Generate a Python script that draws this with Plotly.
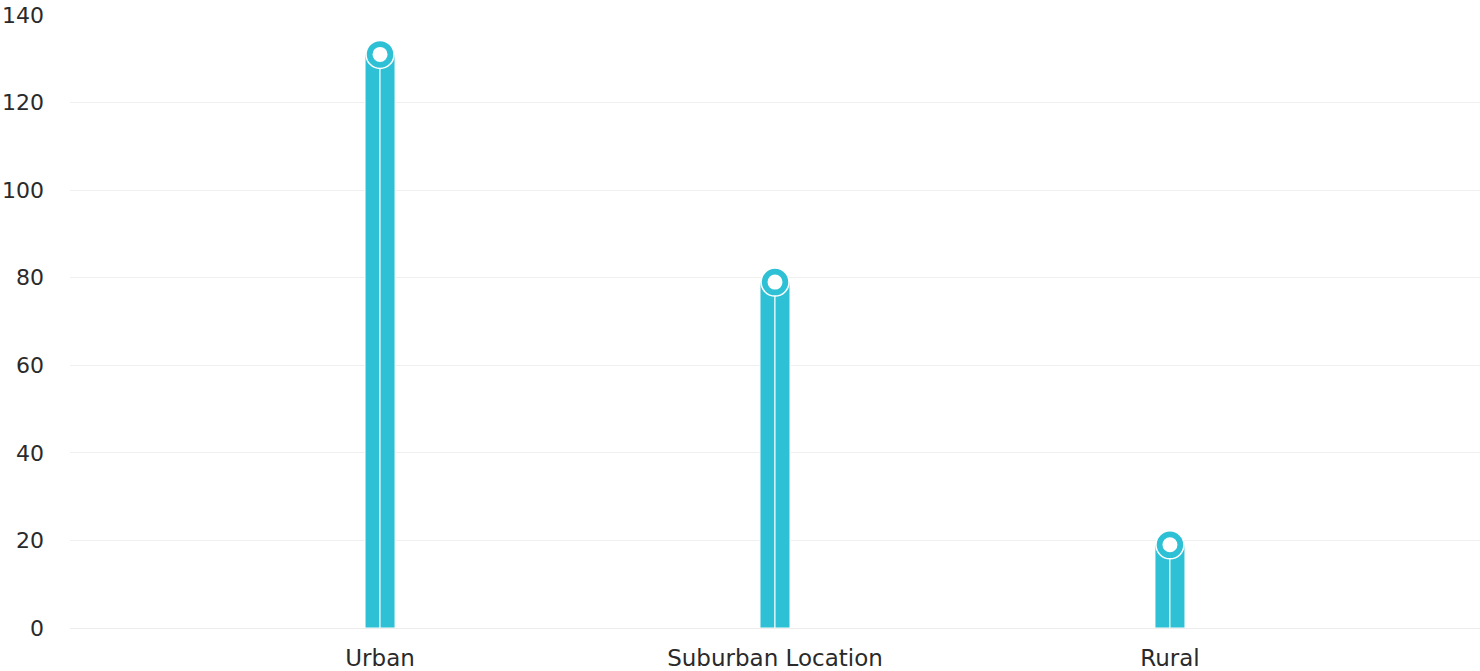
import plotly.graph_objects as go

categories = ['Urban', 'Suburban Location', 'Rural']
values = [131, 79, 19]
y_ticks = [0, 20, 40, 60, 80, 100, 120, 140]

teal = '#2ec1d5'


def build():
    fig = go.Figure()

    # two half-width bars side by side give the split column look
    for _ in range(2):
        fig.add_trace(go.Bar(x=categories, y=values, marker=dict(color=teal, line=dict(color='white', width=1)),
                             hoverinfo='skip', showlegend=False))

    # ring marker on top of each column
    fig.add_trace(go.Scatter(x=categories, y=values, mode='markers',
                             marker=dict(size=28, color=teal, line=dict(color='white', width=1.5)),
                             showlegend=False))
    fig.add_trace(go.Scatter(x=categories, y=values, mode='markers',
                             marker=dict(size=15, color='white', line=dict(width=0)),
                             hoverinfo='skip', showlegend=False))

    fig.update_layout(
        width=1480, height=671,
        margin=dict(l=70, r=0, t=15, b=43),
        paper_bgcolor='white', plot_bgcolor='white',
        barmode='group', bargap=0.924, bargroupgap=0,
        font=dict(family='DejaVu Sans, sans-serif', size=22, color='#2a2a2a'),
        xaxis=dict(range=[-0.785, 2.785], showgrid=False, zeroline=False, showline=False,
                   ticks='', ticklabelstandoff=14, automargin=False, tickfont=dict(size=23)),
        yaxis=dict(range=[0, 140], tickvals=y_ticks, gridcolor='#f0f0f0', gridwidth=1,
                   zeroline=True, zerolinecolor='#ececec', zerolinewidth=1, showline=False,
                   ticks='', ticklabelstandoff=25, automargin=False, ticklabeloverflow='allow'),
    )
    # drop the default body margin so the chart sits flush in the window
    fig.write_html('out.html', config={'displayModeBar': False},
                   post_script="document.body.style.margin='0';")


if __name__ == '__main__':
    build()
